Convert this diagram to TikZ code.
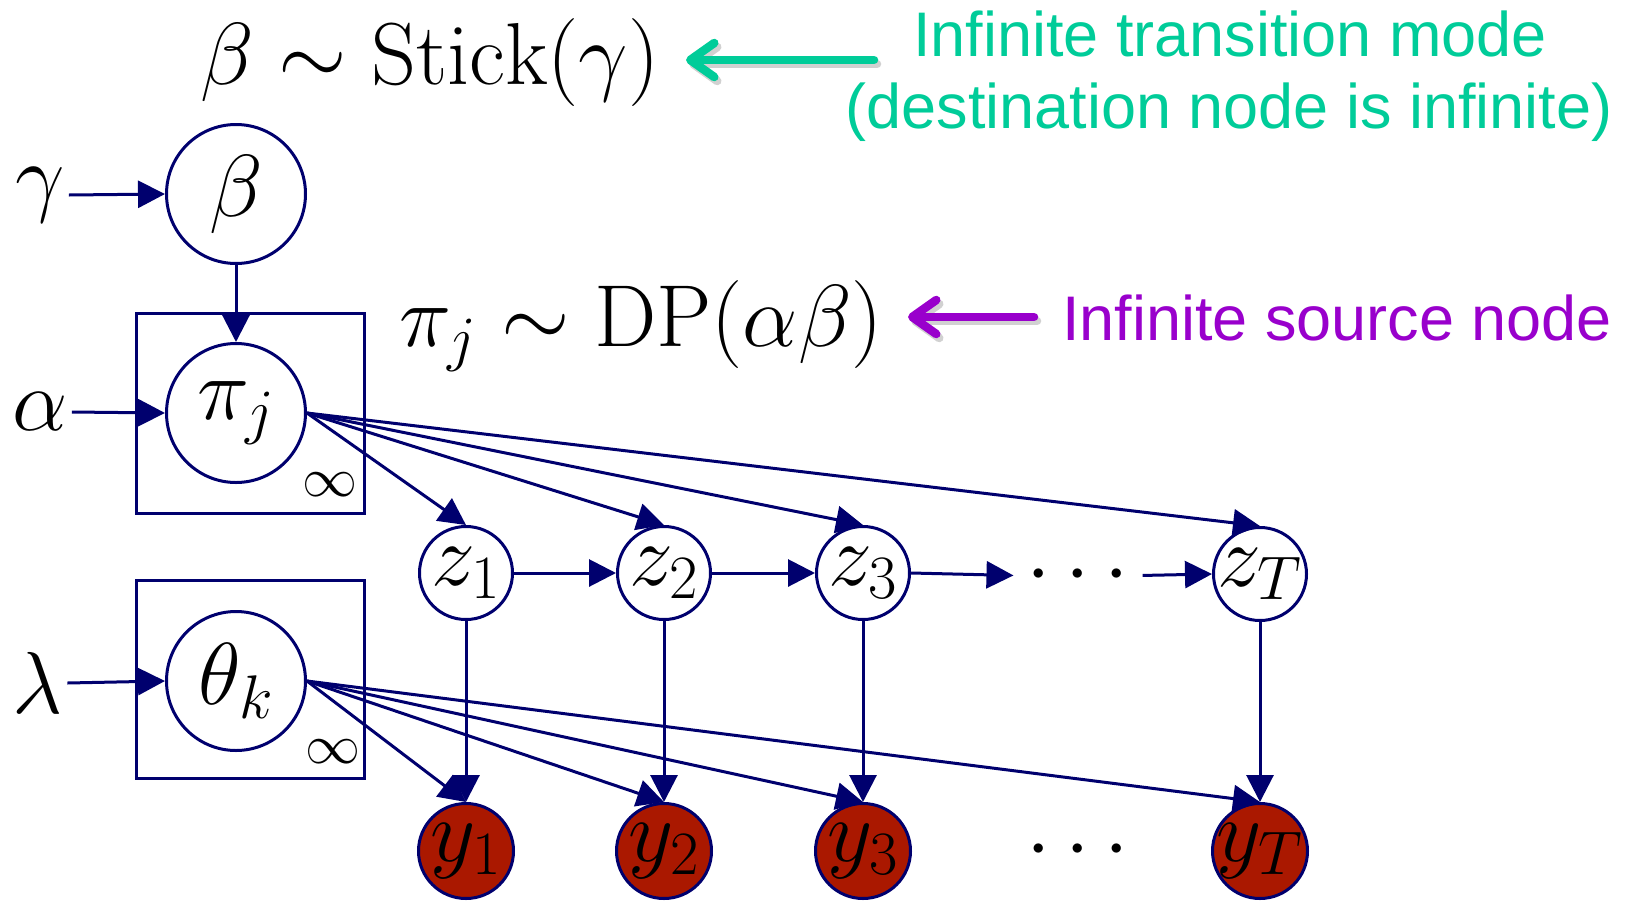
\RequirePackage{fix-cm}
\documentclass[tikz,border=0pt]{standalone}
\usepackage{fontspec}
\newfontfamily\arialfont{Liberation Sans}
\usetikzlibrary{arrows.meta}
\definecolor{navy}{RGB}{0,0,110}
\definecolor{ydark}{RGB}{153,0,0}
\definecolor{ylight}{RGB}{170,24,0}
\definecolor{tealgreen}{RGB}{0,204,153}
\definecolor{violetx}{RGB}{153,0,204}
\newcommand{\mathbig}{\fontsize{88}{104}\selectfont}
\newcommand{\infsize}{\fontsize{55}{60}\selectfont}
\newcommand{\sanssize}{\arialfont\fontsize{63}{73}\selectfont}
\newcommand{\ctr}[1]{\makebox[0pt]{#1}}
\begin{document}
\begin{tikzpicture}[x=1pt,y=-1pt,
  lat/.style={circle,draw=navy,line width=3pt,inner sep=0pt,minimum size=139pt,font=\mathbig,fill=white},
  smallnode/.style={lat,minimum size=93pt},
  obs/.style={smallnode,fill=ydark,minimum size=95pt,
    path picture={\node[fill=ylight,inner sep=0pt,font=\mathbig] at (path picture bounding box.center) {\phantom{$#1$}};}},
  edge/.style={draw=navy,line width=3pt,-{Triangle[length=27pt,width=27pt]}},
  plate/.style={draw=navy,line width=3pt,inner sep=0pt},
  lbl/.style={font=\mathbig,inner sep=0pt},
  hyper/.style={font=\mathbig,inner sep=4pt},
  bigarrow/.style={line width=8.5pt,line cap=round,-{Straight Barb[length=24pt,width=34pt,line width=8.5pt,round]}},
  shadowarrow/.style={bigarrow,draw=black,opacity=0.18}
]
\useasboundingbox (0,0) rectangle (1625,900);

% plates
\node[plate,minimum width=228pt,minimum height=200pt] (plate1) at (250,413) {};
\node[plate,minimum width=228pt,minimum height=198pt] (plate2) at (250,679) {};
\node[font=\infsize,inner sep=0pt] (inf1) at (330,485) {$\infty$};
\node[font=\infsize,inner sep=0pt] (inf2) at (333,752) {$\infty$};

% latent top nodes
\node[lat] (beta) at (236,194) {$\beta$};
\node[lat] (pi) at (236,413) {$\pi_j$};
\node[lat] (theta) at (236,681) {$\theta_k$};

% hyperparameters
\node[hyper] (gamma) at (40,195) {$\gamma$};
\node[hyper] (alpha) at (40,412) {$\alpha$};
\node[hyper] (lambda) at (38,683) {$\lambda$};

% chain
\node[smallnode] (z1) at (466,573) {\ctr{$z_1$}};
\node[smallnode] (z2) at (664,573) {\ctr{$z_2$}};
\node[smallnode] (z3) at (863,573) {\ctr{$z_3$}};
\node[smallnode] (zT) at (1260,574) {\ctr{$z_T$}};
\node[lbl,inner xsep=13pt,anchor=base] (zdots) at (1078,595) {$\cdots$};

\node[obs={y_1}] (y1) at (466,851) {\ctr{$y_1$}};
\node[obs={y_2}] (y2) at (664,851) {\ctr{$y_2$}};
\node[obs={y_3}] (y3) at (863,851) {\ctr{$y_3$}};
\node[obs={y_T}] (yT) at (1260,851) {\ctr{$y_T$}};
\node[lbl,anchor=base] (ydots) at (1078,870) {$\cdots$};

% formulas
\node[lbl,anchor=base] (f1) at (430,84) {$\beta\sim\mathrm{Stick}(\gamma)$};
\node[lbl,anchor=base] (f2) at (641,346) {$\pi_j\sim\mathrm{DP}(\alpha\beta)$};

% annotations
\node[font=\sanssize,text=tealgreen,inner sep=0pt,anchor=base] (t1) at (1230,56) {Infinite transition mode};
\node[font=\sanssize,text=tealgreen,inner sep=0pt,anchor=base] (t2) at (1229,128) {(destination node is infinite)};
\node[font=\sanssize,text=violetx,inner sep=0pt,anchor=base] (t3) at (1337,340) {Infinite source node};

\coordinate (gtail) at (874,60);
\coordinate (gtip) at (686,60);
\coordinate (ptail) at (1034,317);
\coordinate (ptip) at (908,317);
\draw[shadowarrow] ([shift={(3,4)}]gtail) -- ([shift={(3,4)}]gtip);
\draw[shadowarrow] ([shift={(3,4)}]ptail) -- ([shift={(3,4)}]ptip);
\draw[bigarrow,draw=tealgreen] (gtail) -- (gtip);
\draw[bigarrow,draw=violetx] (ptail) -- (ptip);

% edges
\draw[edge] (gamma.east) -- (beta.west);
\draw[edge] (alpha.east) -- (pi.west);
\draw[edge] (lambda.east) -- (theta.west);
\draw[edge] (beta.south) -- (pi.north);
\foreach \n in {z1,z2,z3,zT}{\draw[edge] (pi.east) -- (\n.north);}
\foreach \n in {y1,y2,y3,yT}{\draw[edge] (theta.east) -- (\n.north);}
\draw[edge] (z1.south) -- (y1.north);
\draw[edge] (z2.south) -- (y2.north);
\draw[edge] (z3.south) -- (y3.north);
\draw[edge] (zT.south) -- (yT.north);
\draw[edge] (z1.east) -- (z2.west);
\draw[edge] (z2.east) -- (z3.west);
\draw[edge] (z3.east) -- (zdots.west);
\draw[edge] (zdots.east) -- (zT.west);
\end{tikzpicture}
\end{document}
